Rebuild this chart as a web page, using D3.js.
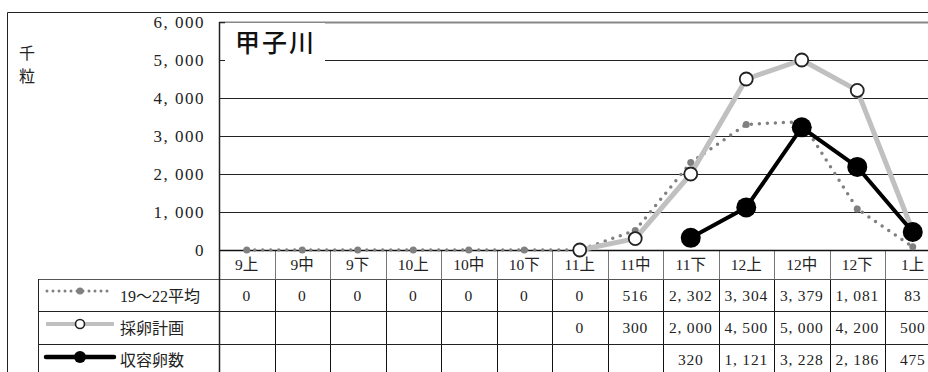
<!DOCTYPE html>
<html><head><meta charset="utf-8">
<script src="https://cdn.jsdelivr.net/npm/d3@7"></script>
<style>
html,body{margin:0;padding:0;background:#fff;}
svg{display:block;}
</style></head>
<body>
<svg id="chart" width="928" height="372"></svg>
<script>
const categories = ["9上","9中","9下","10上","10中","10下","11上","11中","11下","12上","12中","12下","1上"];
const avgValues  = [0,0,0,0,0,0,0,516,2302,3304,3379,1081,83];
const planValues = [null,null,null,null,null,null,0,300,2000,4500,5000,4200,500];
const actualValues = [null,null,null,null,null,null,null,null,320,1121,3228,2186,475];
const seriesNames = ["19～22平均","採卵計画","収容卵数"];
const yTicks = [0,1000,2000,3000,4000,5000,6000];
const title = "甲子川";
const yUnit = ["千","粒"];

const svg = d3.select("#chart");
const serif = "'Liberation Serif','Noto Sans CJK JP',serif";
const sans = "'Noto Sans CJK JP',sans-serif";

const plotL = 219, bandW = 55.5;
const x = d3.scaleBand().domain(categories).range([plotL, plotL + bandW*categories.length]);
const xc = d => x(d) + x.bandwidth()/2;
const y = d3.scaleLinear().domain([0,6000]).range([250,22]);
const fmt = v => v == null ? "" : d3.format(",")(v).replace(/,/g, ", ");

// outer border
svg.append("path").attr("d","M7.5,372 V12.5 H928").attr("fill","none").attr("stroke","#222").attr("stroke-width",1);

// gridlines
svg.append("g").selectAll("line").data(yTicks.filter(t=>t>0)).join("line")
  .attr("x1",plotL).attr("x2",928)
  .attr("y1",d=>Math.round(y(d))+0.5).attr("y2",d=>Math.round(y(d))+0.5)
  .attr("stroke",d=>d===6000?"#888":"#222").attr("stroke-width",d=>d===6000?2:1);

// y axis labels
const yAxis = d3.axisLeft(y).tickValues(yTicks).tickSize(0).tickPadding(14).tickFormat(fmt);
const gy = svg.append("g").attr("transform",`translate(${plotL},0)`).call(yAxis);
gy.select(".domain").remove();
gy.selectAll("text").attr("font-family",serif).attr("font-size",17).attr("letter-spacing","1.5px").attr("fill","#222").attr("dy","0.32em");

// y unit
svg.append("g").selectAll("text").data(yUnit).join("text")
  .attr("x",27).attr("y",(d,i)=>53+i*23).attr("text-anchor","middle").attr("dy","0.35em")
  .attr("font-family",sans).attr("font-size",16).attr("fill","#222").text(d=>d);

// table
const tTop = 250, rows = [279, 311, 344], tBot = 372;
const tg = svg.append("g");
const edges = categories.map(c=>x(c)).concat([x.range()[1]]);
tg.selectAll(".vh").data(edges.slice(1)).join("line")
  .attr("x1",d=>Math.round(d)+0.5).attr("x2",d=>Math.round(d)+0.5).attr("y1",tTop).attr("y2",rows[0])
  .attr("stroke","#777");
tg.selectAll(".vb").data(edges.slice(1)).join("line").attr("class","vb")
  .attr("x1",d=>Math.round(d)+0.5).attr("x2",d=>Math.round(d)+0.5).attr("y1",rows[0]).attr("y2",tBot)
  .attr("stroke","#111");
tg.selectAll(".hl").data(rows).join("line").attr("class","hl")
  .attr("x1",38).attr("x2",928).attr("y1",d=>d+0.5).attr("y2",d=>d+0.5)
  .attr("stroke",(d,i)=>i===0?"#555":"#222");
tg.append("line").attr("x1",38.5).attr("x2",38.5).attr("y1",rows[0]).attr("y2",tBot).attr("stroke","#222");

tg.selectAll(".cat").data(categories).join("text").attr("class","cat")
  .attr("x",d=>xc(d)).attr("y",265).attr("dy","0.35em").attr("text-anchor","middle")
  .attr("font-family",serif).attr("font-size",15.5).attr("fill","#222").text(d=>d);

const allSeries = [avgValues, planValues, actualValues];
const rowCenters = [296, 328, 360];
allSeries.forEach((vals,si)=>{
  tg.append("g").selectAll("text").data(categories).join("text")
    .attr("x",d=>xc(d)).attr("y",rowCenters[si]).attr("dy","0.35em").attr("text-anchor","middle")
    .attr("font-family",serif).attr("font-size",15.5).attr("letter-spacing","0.8px").attr("fill","#222")
    .text((d,i)=>fmt(vals[i]));
});

// baseline & y axis line
svg.append("line").attr("x1",plotL).attr("x2",928).attr("y1",250.5).attr("y2",250.5).attr("stroke","#111").attr("stroke-width",1.5);
svg.append("line").attr("x1",plotL+0.5).attr("x2",plotL+0.5).attr("y1",22).attr("y2",tBot).attr("stroke","#222").attr("stroke-width",1.5);

// title box
svg.append("rect").attr("x",225).attr("y",23).attr("width",100).attr("height",42).attr("fill","#fff");
svg.append("line").attr("x1",plotL).attr("x2",225).attr("y1",22.5).attr("y2",22.5).attr("stroke","#222");
svg.append("text").attr("x",235).attr("y",43).attr("dy","0.35em").attr("font-family",sans)
  .attr("font-size",25).attr("font-weight",500).attr("letter-spacing","2px").attr("fill","#111").text(title);

// series lines
const line = d3.line().defined(d=>d.v!=null).x(d=>xc(d.c)).y(d=>y(d.v));
const toPts = vals => categories.map((c,i)=>({c, v: vals[i]}));

const gAvg = svg.append("g");
gAvg.append("path").datum(toPts(avgValues)).attr("d",line).attr("fill","none")
  .attr("stroke","#808080").attr("stroke-width",3.5).attr("stroke-linecap","round").attr("stroke-dasharray","0,8");
gAvg.selectAll("circle").data(toPts(avgValues)).join("circle")
  .attr("cx",d=>xc(d.c)).attr("cy",d=>y(d.v)).attr("r",3.5).attr("fill","#808080");

const gPlan = svg.append("g");
const planPts = toPts(planValues).filter(d=>d.v!=null);
gPlan.append("path").datum(planPts).attr("d",line).attr("fill","none")
  .attr("stroke","#c0c0c0").attr("stroke-width",5).attr("stroke-linejoin","round");
gPlan.selectAll("circle").data(planPts).join("circle")
  .attr("cx",d=>xc(d.c)).attr("cy",d=>y(d.v)).attr("r",6.5).attr("fill","#fff").attr("stroke","#222").attr("stroke-width",1.8);

const gAct = svg.append("g");
const actPts = toPts(actualValues).filter(d=>d.v!=null);
gAct.append("path").datum(actPts).attr("d",line).attr("fill","none")
  .attr("stroke","#000").attr("stroke-width",4).attr("stroke-linejoin","round");
gAct.selectAll("circle").data(actPts).join("circle")
  .attr("cx",d=>xc(d.c)).attr("cy",d=>y(d.v)).attr("r",10).attr("fill","#000");

// legend
const lg = svg.append("g");
const legY = [291, 324, 357];
lg.append("line").attr("x1",47).attr("x2",113).attr("y1",legY[0]).attr("y2",legY[0])
  .attr("stroke","#808080").attr("stroke-width",3).attr("stroke-linecap","round").attr("stroke-dasharray","0,6");
lg.append("circle").attr("cx",80).attr("cy",legY[0]).attr("r",3.5).attr("fill","#808080");
lg.append("line").attr("x1",46).attr("x2",114).attr("y1",legY[1]).attr("y2",legY[1])
  .attr("stroke","#c0c0c0").attr("stroke-width",4);
lg.append("circle").attr("cx",80).attr("cy",legY[1]).attr("r",4.5).attr("fill","#fff").attr("stroke","#222").attr("stroke-width",1.6);
lg.append("line").attr("x1",46).attr("x2",114).attr("y1",legY[2]).attr("y2",legY[2])
  .attr("stroke","#000").attr("stroke-width",4.5).attr("stroke-linecap","round");
lg.append("circle").attr("cx",80).attr("cy",legY[2]).attr("r",6).attr("fill","#000");
lg.selectAll("text").data(seriesNames).join("text")
  .attr("x",120).attr("y",(d,i)=>rowCenters[i]).attr("dy","0.35em")
  .attr("font-family",serif).attr("font-size",16).attr("fill","#222").text(d=>d);
</script>
</body></html>
